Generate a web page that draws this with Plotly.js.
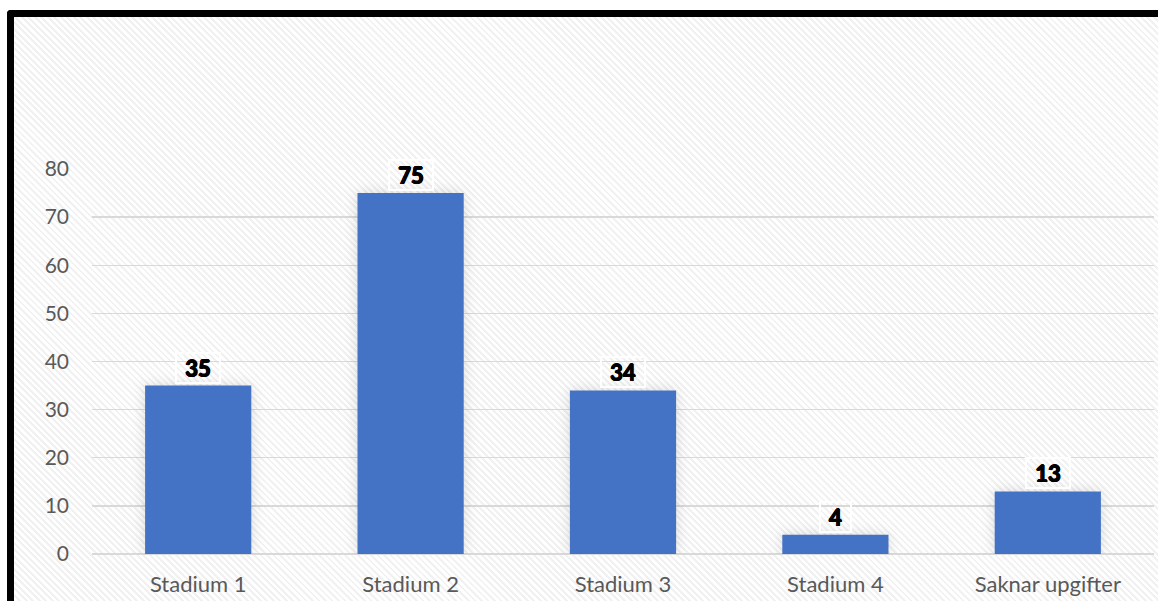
<!DOCTYPE html>
<html>
<head>
<meta charset="utf-8">
<script src="https://cdn.plot.ly/plotly-3.0.1.min.js"></script>
<style>
html, body { margin: 0; padding: 0; background: #ffffff; width: 1158px; height: 601px; overflow: hidden; }
#frame {
  position: absolute; left: 7px; top: 10px; width: 1200px; height: 700px;
  border-left: 7px solid #000; border-top: 7px solid #000; border-top-left-radius: 4px;
  background: repeating-linear-gradient(45deg, #ffffff 0px, #ffffff 2.6px, #f1f1f1 2.6px, #f1f1f1 4.6px);
}
#chart { position: absolute; left: 0; top: 0; width: 1158px; height: 601px; }
.trace.bars .point path { filter: drop-shadow(0 0 7px rgba(0,0,0,0.14)); }
</style>
</head>
<body>
<div id="frame"></div>
<div id="chart"></div>
<script>
const categories = ["Stadium 1", "Stadium 2", "Stadium 3", "Stadium 4", "Saknar upgifter"];
const values = [35, 75, 34, 4, 13];
const tickValues = [0, 10, 20, 30, 40, 50, 60, 70, 80];

const trace = {
  type: "bar",
  x: categories,
  y: values,
  marker: { color: "#4472C4" },
  hoverinfo: "none"
};

const annotations = categories.map((c, i) => ({
  x: c, y: values[i], xref: "x", yref: "y",
  text: "<b>" + values[i] + "</b>",
  showarrow: false, yshift: 18,
  width: 16 + 13 * String(values[i]).length, height: 28,
  bgcolor: "rgba(0,0,0,0)", bordercolor: "#ffffff", borderwidth: 2, borderpad: 0,
  font: { family: "Lato, 'DejaVu Sans', sans-serif", size: 22, color: "#000000",
          shadow: "0.7px 0 0 #000, -0.7px 0 0 #000, 0 0.7px 0 #000, 0 -0.7px 0 #000" }
}));

const layout = {
  width: 1158, height: 601,
  margin: { l: 92, r: 4, t: 169, b: 47 },
  paper_bgcolor: "rgba(0,0,0,0)",
  plot_bgcolor: "rgba(0,0,0,0)",
  bargap: 0.5,
  showlegend: false,
  font: { family: "Lato, 'Open Sans', sans-serif", size: 21, color: "#595959" },
  xaxis: {
    type: "category", showgrid: false, zeroline: false, showline: false,
    ticks: "", ticklabelstandoff: 15, tickfont: { size: 22, color: "#595959" }
  },
  yaxis: {
    range: [0, 80], tickvals: tickValues, showgrid: true, gridcolor: "#d9d9d9", gridwidth: 1.3,
    zeroline: true, zerolinecolor: "#d9d9d9", zerolinewidth: 1.3, showline: false,
    ticks: "", ticklabelstandoff: 22, tickfont: { size: 21, color: "#595959" }
  },
  annotations: annotations
};

Plotly.newPlot("chart", [trace], layout, { displayModeBar: false, staticPlot: true });
</script>
</body>
</html>
